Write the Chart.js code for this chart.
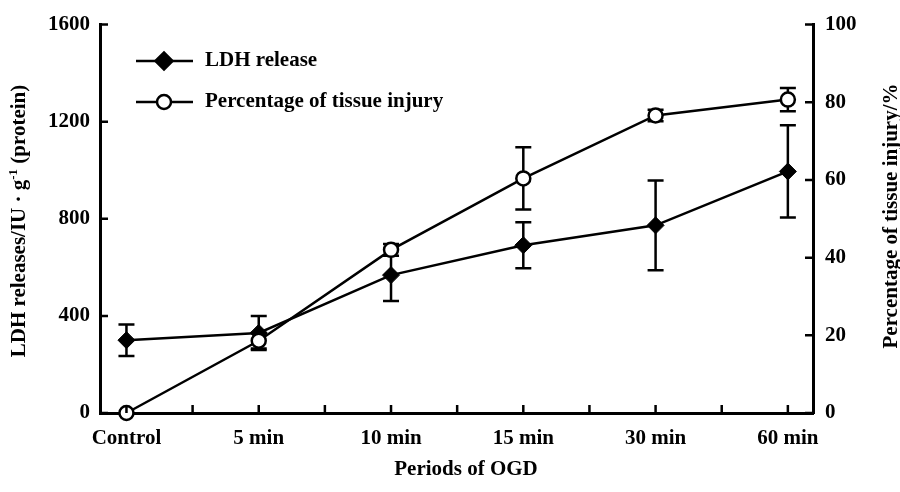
<!DOCTYPE html>
<html>
<head>
<meta charset="utf-8">
<script src="https://cdn.jsdelivr.net/npm/chart.js@4.4.0/dist/chart.umd.min.js"></script>
<style>
  html, body { margin: 0; padding: 0; background: #fff; }
  canvas { display: block; }
</style>
</head>
<body>
<canvas id="ogdChart" width="900" height="492"></canvas>
<script>
// values
const categories = ['Control', '5 min', '10 min', '15 min', '30 min', '60 min'];
const ldhRelease = [300, 330, 568, 691, 773, 995];
const ldhError = [65, 70, 107, 95, 185, 190];
const tissueInjury = [0, 18.6, 42, 60.4, 76.6, 80.7];
const tissueError = [0, 2, 1.5, 8, 1.5, 3];

const leftTicks = [0, 400, 800, 1200, 1600];
const rightTicks = [0, 20, 40, 60, 80, 100];

const FONT = '"Liberation Serif", "Times New Roman", serif';
Chart.defaults.font.family = FONT;
Chart.defaults.font.weight = 'bold';
Chart.defaults.font.size = 21;
Chart.defaults.color = '#000';

const errorBars = {
    id: 'errorBars',
    beforeDatasetsDraw(chart) {
        const ctx = chart.ctx;
        ctx.save();
        ctx.strokeStyle = '#000';
        ctx.lineWidth = 2.5;
        chart.data.datasets.forEach((ds, di) => {
            const meta = chart.getDatasetMeta(di);
            const yScale = chart.scales[ds.yAxisID];
            ds.errors.forEach((e, i) => {
                if (!e) return;
                const v = ds.data[i].y;
                const x = meta.data[i].x;
                const top = yScale.getPixelForValue(v + e);
                const bot = yScale.getPixelForValue(v - e);
                ctx.beginPath();
                ctx.moveTo(x, top); ctx.lineTo(x, bot);
                ctx.moveTo(x - 8, top); ctx.lineTo(x + 8, top);
                ctx.moveTo(x - 8, bot); ctx.lineTo(x + 8, bot);
                ctx.stroke();
            });
        });
        ctx.restore();
    }
};

// inward tick marks, rotated axis titles and legend
const decorations = {
    id: 'decorations',
    afterDraw(chart) {
        const ctx = chart.ctx;
        const area = chart.chartArea;
        const xs = chart.scales.x, yl = chart.scales.yLeft, yr = chart.scales.yRight;
        ctx.save();
        ctx.strokeStyle = '#000';
        ctx.lineWidth = 2.5;
        ctx.beginPath();
        leftTicks.forEach(v => {
            const y = yl.getPixelForValue(v);
            ctx.moveTo(area.left, y); ctx.lineTo(area.left + 8, y);
        });
        rightTicks.forEach(v => {
            const y = yr.getPixelForValue(v);
            ctx.moveTo(area.right, y); ctx.lineTo(area.right - 8, y);
        });
        for (let i = 0; i <= (categories.length - 1) * 2; i++) {
            const x = xs.getPixelForValue(i / 2);
            ctx.moveTo(x, area.bottom); ctx.lineTo(x, area.bottom - 8);
        }
        ctx.stroke();

        ctx.fillStyle = '#000';
        ctx.textBaseline = 'middle';

        // left title with superscript
        ctx.save();
        ctx.translate(20, 221);
        ctx.rotate(-Math.PI / 2);
        const big = 'bold 21px ' + FONT, small = 'bold 13px ' + FONT;
        const p1 = 'LDH releases/IU \u00b7 g', p2 = '-1', p3 = ' (protein)';
        ctx.font = big;
        const w1 = ctx.measureText(p1).width, w3 = ctx.measureText(p3).width;
        ctx.font = small;
        const w2 = ctx.measureText(p2).width;
        let x0 = -(w1 + w2 + w3) / 2;
        ctx.textAlign = 'left';
        ctx.font = big; ctx.fillText(p1, x0, 0);
        ctx.font = small; ctx.fillText(p2, x0 + w1, -6);
        ctx.font = big; ctx.fillText(p3, x0 + w1 + w2, 0);
        ctx.restore();

        // right title
        ctx.save();
        ctx.translate(892, 216);
        ctx.rotate(-Math.PI / 2);
        ctx.textAlign = 'center';
        ctx.font = big;
        ctx.fillText('Percentage of tissue injury/%', 0, 0);
        ctx.restore();

        // x title
        ctx.textAlign = 'center';
        ctx.font = big;
        ctx.fillText('Periods of OGD', 466, 470);

        // legend
        const items = [
            { label: 'LDH release', y: 61, style: 'rectRot', fill: '#000', r: 8.5 },
            { label: 'Percentage of tissue injury', y: 102, style: 'circle', fill: '#fff', r: 7 }
        ];
        items.forEach(it => {
            ctx.lineWidth = 2.5;
            ctx.beginPath();
            ctx.moveTo(136, it.y); ctx.lineTo(193, it.y);
            ctx.stroke();
            ctx.fillStyle = it.fill;
            Chart.helpers.drawPoint(ctx, { pointStyle: it.style, radius: it.r, borderWidth: 2.5 }, 164, it.y);
            ctx.fillStyle = '#000';
            ctx.textAlign = 'left';
            ctx.fillText(it.label, 205, it.y);
        });
        ctx.restore();
    }
};

new Chart(document.getElementById('ogdChart'), {
    type: 'line',
    data: {
        datasets: [
            {
                label: 'Percentage of tissue injury',
                data: tissueInjury.map((v, i) => ({ x: i, y: v })),
                errors: tissueError,
                yAxisID: 'yRight',
                borderColor: '#000',
                borderWidth: 2.5,
                pointStyle: 'circle',
                pointRadius: 7,
                pointBackgroundColor: '#fff',
                pointBorderColor: '#000',
                pointBorderWidth: 2.5,
                tension: 0
            },
            {
                label: 'LDH release',
                data: ldhRelease.map((v, i) => ({ x: i, y: v })),
                errors: ldhError,
                yAxisID: 'yLeft',
                borderColor: '#000',
                borderWidth: 2.5,
                pointStyle: 'rectRot',
                pointRadius: 8.5,
                pointBackgroundColor: '#000',
                pointBorderColor: '#000',
                pointBorderWidth: 1,
                tension: 0
            }
        ]
    },
    options: {
        responsive: false,
        animation: false,
        clip: false,
        layout: { padding: { top: 24, left: 0, right: 0, bottom: 0 } },
        plugins: {
            legend: { display: false },
            tooltip: { enabled: false }
        },
        scales: {
            x: {
                type: 'linear',
                min: -0.2,
                max: categories.length - 1 + 0.19,
                afterBuildTicks: s => { s.ticks = categories.map((c, i) => ({ value: i })); },
                afterFit: s => { s.height = 79; },
                grid: { display: false, drawTicks: false },
                border: { display: true, color: '#000', width: 3 },
                ticks: {
                    padding: 13,
                    maxRotation: 0,
                    autoSkip: false,
                    callback: v => categories[v]
                }
            },
            yLeft: {
                type: 'linear',
                position: 'left',
                min: 0,
                max: 1600,
                afterBuildTicks: s => { s.ticks = leftTicks.map(v => ({ value: v })); },
                afterFit: s => { s.width = 100; },
                grid: { display: false, drawTicks: false },
                border: { display: true, color: '#000', width: 3 },
                ticks: { padding: 10, callback: v => String(v) }
            },
            yRight: {
                type: 'linear',
                position: 'right',
                min: 0,
                max: 100,
                afterBuildTicks: s => { s.ticks = rightTicks.map(v => ({ value: v })); },
                afterFit: s => { s.width = 87; },
                grid: { display: false, drawTicks: false },
                border: { display: true, color: '#000', width: 3 },
                ticks: { padding: 12, callback: v => String(v) }
            }
        }
    },
    plugins: [errorBars, decorations]
});
</script>
</body>
</html>
